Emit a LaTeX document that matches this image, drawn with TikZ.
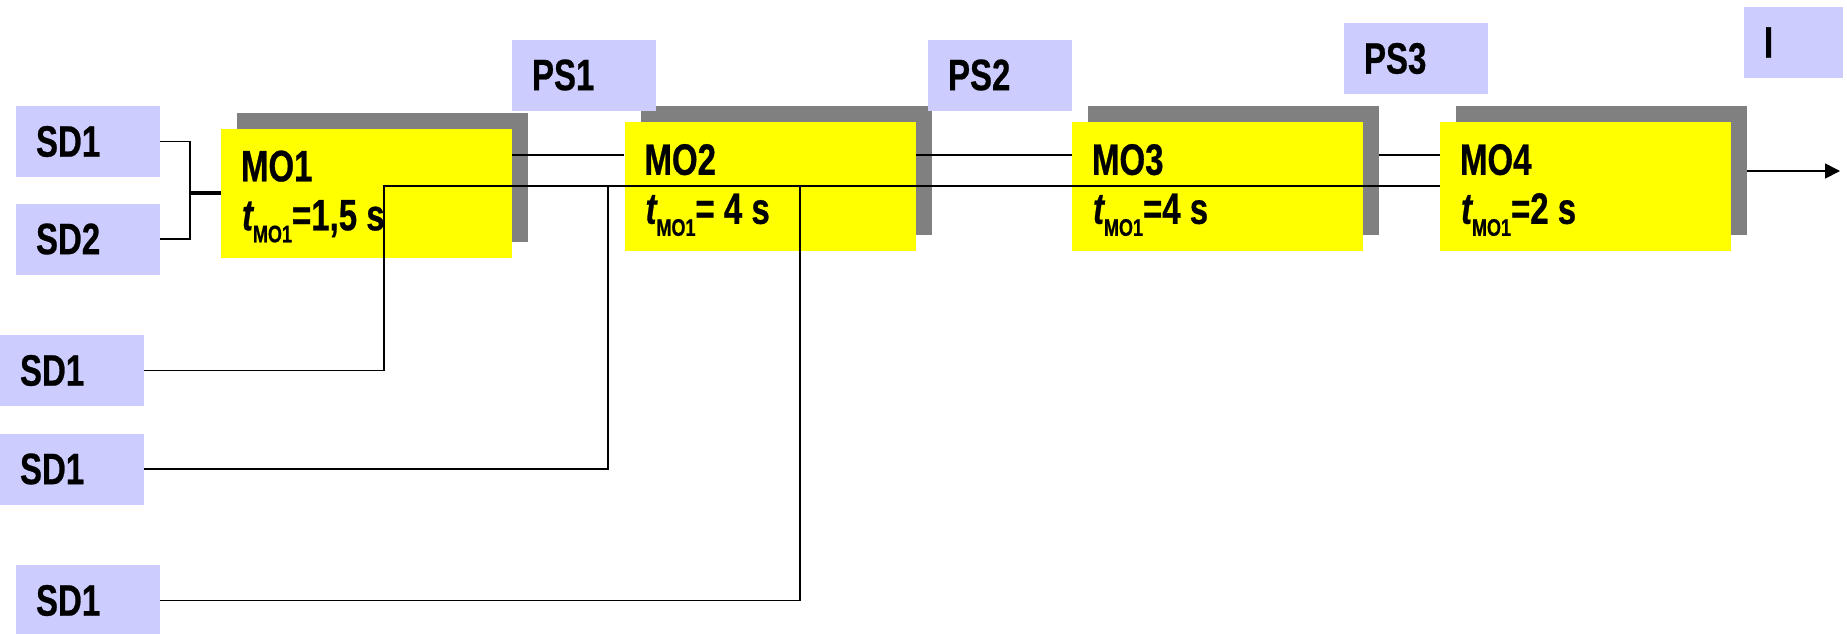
\documentclass[tikz,border=0pt]{standalone}
\usepackage{fontspec}
\setmainfont{Liberation Sans}[FakeStretch=0.75, BoldFeatures={FakeBold=0.6}, BoldItalicFeatures={FakeBold=0.6}]
\usetikzlibrary{arrows.meta}
\definecolor{lav}{HTML}{CCCCFF}
\definecolor{yel}{HTML}{FFFF00}
\definecolor{shd}{HTML}{808080}
\newcommand\myfont{\fontsize{44}{50}\selectfont\bfseries}
\newcommand\tmo{{\itshape t}\raisebox{-12pt}{\fontsize{24}{24}\selectfont MO1}}
\begin{document}
\begin{tikzpicture}[x=1pt,y=-1pt,
  lbox/.style={fill=lav, draw=none, minimum height=71pt, inner ysep=0pt, inner xsep=20pt, text width=104pt, align=left, font=\myfont},
  ibox/.style={lbox, text width=59pt},
  ybox/.style={fill=yel, draw=none, minimum width=291pt, minimum height=129pt, inner sep=0pt},
  sbox/.style={fill=shd, draw=none, minimum width=291pt, minimum height=129pt, inner sep=0pt},
  txt/.style={anchor=base west, inner sep=0pt, font=\myfont},
  conn/.style={draw=black, line width=1.7pt}]
\useasboundingbox (0,0) rectangle (1847,633);
% shadows
\node[sbox] (sh1) at (382.5,177) {};
\node[sbox] (sh2) at (786,170.5) {};
\node[sbox] (sh3) at (1233.5,170.5) {};
\node[sbox] (sh4) at (1601.5,170.5) {};
% yellow operation boxes
\node[ybox] (mo1) at (366.5,193) {};
\node[ybox] (mo2) at (770,186.5) {};
\node[ybox] (mo3) at (1217.5,186.5) {};
\node[ybox] (mo4) at (1585.5,186.5) {};
% lavender boxes
\node[lbox] (sdA) at (88,141.5) {SD1};
\node[lbox] (sdB) at (88,239) {SD2};
\node[lbox] (sdC) at (72,370.5) {SD1};
\node[lbox] (sdD) at (72,469) {SD1};
\node[lbox] (sdE) at (88,600.5) {SD1};
\node[lbox] (ps1) at (584,75) {PS1};
\node[lbox] (ps2) at (1000,75) {PS2};
\node[lbox] (ps3) at (1416,58.5) {PS3};
\node[ibox] (iB) at (1793.5,42.5) {I};
% texts in operation boxes
\node[txt] (mo1a) at ([xshift=20pt,yshift=-53pt]mo1.north west) {MO1};
\node[txt] (mo1b) at ([xshift=21pt,yshift=-102pt]mo1.north west) {\tmo=1,5 s};
\node[txt] (mo2a) at ([xshift=20pt,yshift=-53pt]mo2.north west) {MO2};
\node[txt] (mo2b) at ([xshift=21pt,yshift=-102pt]mo2.north west) {\tmo= 4 s};
\node[txt] (mo3a) at ([xshift=20pt,yshift=-53pt]mo3.north west) {MO3};
\node[txt] (mo3b) at ([xshift=21pt,yshift=-102pt]mo3.north west) {\tmo=4 s};
\node[txt] (mo4a) at ([xshift=20pt,yshift=-53pt]mo4.north west) {MO4};
\node[txt] (mo4b) at ([xshift=21pt,yshift=-102pt]mo4.north west) {\tmo=2 s};
% connectors
\coordinate (fork) at (190,193);
\draw[conn] (sdA.east) -| (fork) |- (sdB.east);
\draw[draw=black, line width=3.2pt] (fork) -- (mo1.west);
\draw[conn] (mo1.east |- 0,155) -- (mo2.west |- 0,155);
\draw[conn] (mo2.east |- 0,155) -- (mo3.west |- 0,155);
\draw[conn] (sh3.east |- 0,155) -- (mo4.west |- 0,155);
\coordinate (out) at (1840,171);
\draw[conn, -{Triangle[length=15pt,width=15pt]}] (sh4.east |- out) -- (out);
\coordinate (j1) at (384,186);
\coordinate (j2) at (608,186);
\coordinate (j3) at (800,186);
\draw[conn] (sdC.east) -| (j1) -- (mo4.west |- j1);
\draw[conn] (sdD.east) -| (j2);
\draw[conn] (sdE.east) -| (j3);
\end{tikzpicture}
\end{document}
